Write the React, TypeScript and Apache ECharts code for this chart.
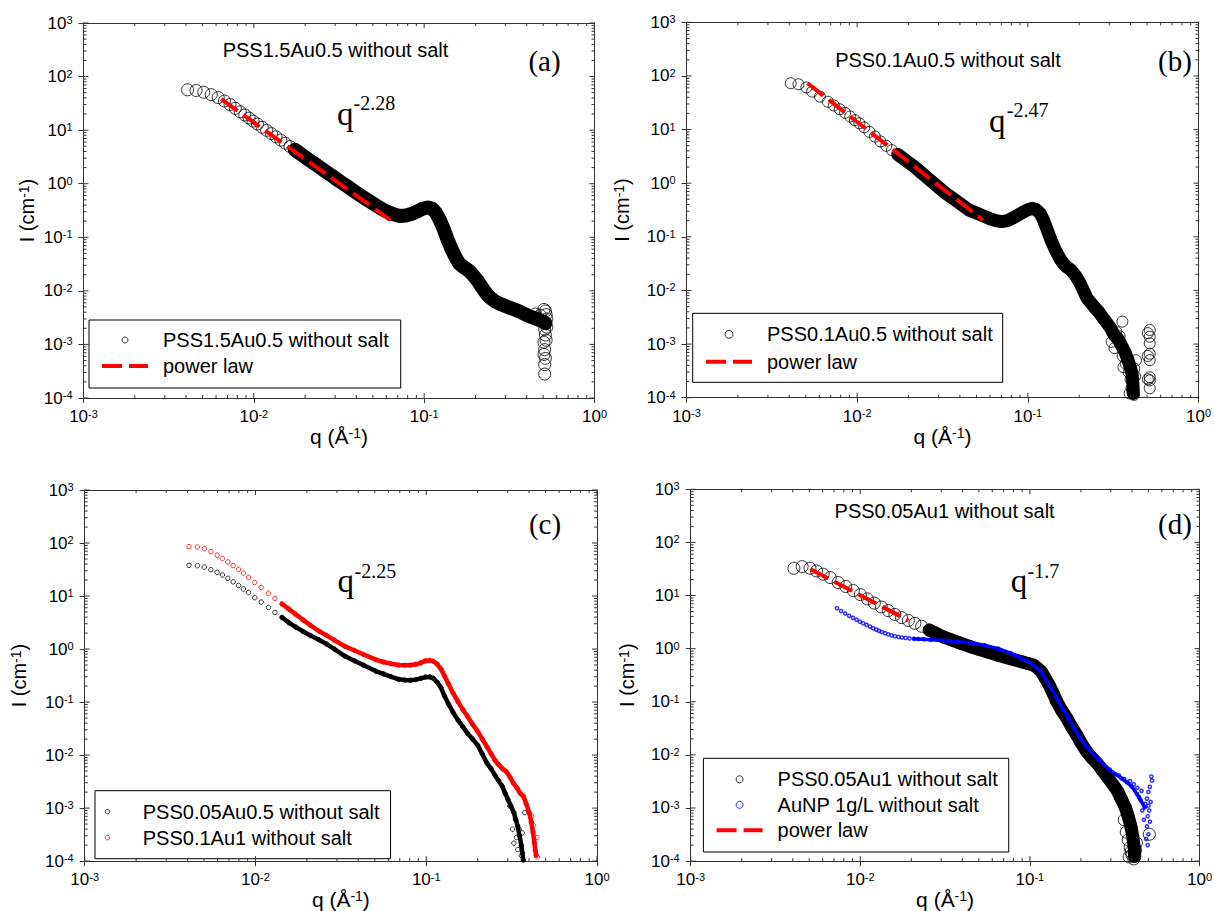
import React, { useEffect, useRef } from "react";
import * as echarts from "echarts";

type Pt = [number, number];

const SANS = '"Liberation Sans", Arial, Helvetica, sans-serif';
const SERIF = '"Liberation Serif", "Times New Roman", Times, serif';
const AXIS_COLOR = "#333";

const X_MIN = 0.001;
const X_MAX = 1;
const Y_MIN = 0.0001;
const Y_MAX = 1000;
const xDecades = [-3, -2, -1, 0];
const yDecades = [-4, -3, -2, -1, 0, 1, 2, 3];
const minorSteps = [2, 3, 4, 5, 6, 7, 8, 9];

// ---------------- panel (a) PSS1.5Au0.5 ----------------
const aLow: Pt[] = [
  [0.00408, 56.6], [0.00458, 55], [0.00508, 51], [0.00562, 46], [0.00618, 40.5], [0.00672, 35],
  [0.00725, 30], [0.00778, 25.5], [0.00832, 22], [0.00885, 19.2], [0.00938, 16.8], [0.0099, 14.8],
  [0.0105, 13], [0.0112, 11.3], [0.0119, 9.9], [0.0127, 8.6], [0.0135, 7.5], [0.0144, 6.5],
  [0.0153, 5.7], [0.0163, 4.95],
];
const aBand: Pt[] = [
  [0.0174, 4.3], [0.0186, 3.7], [0.0198, 3.2], [0.021, 2.8], [0.0235, 2.2], [0.026, 1.75], [0.029, 1.38],
  [0.032, 1.1], [0.036, 0.86], [0.04, 0.68], [0.045, 0.53], [0.05, 0.43], [0.055, 0.355], [0.06, 0.305],
  [0.066, 0.27], [0.072, 0.25], [0.078, 0.255], [0.085, 0.275], [0.092, 0.31], [0.099, 0.345],
  [0.105, 0.36], [0.111, 0.345], [0.117, 0.29], [0.123, 0.215], [0.13, 0.145], [0.137, 0.092],
  [0.145, 0.06], [0.153, 0.042], [0.161, 0.032], [0.17, 0.028], [0.179, 0.025], [0.188, 0.022],
  [0.198, 0.018], [0.208, 0.0148], [0.219, 0.0115], [0.231, 0.009], [0.245, 0.0074], [0.26, 0.0064],
  [0.28, 0.0057], [0.3, 0.0052], [0.32, 0.0048], [0.345, 0.0044], [0.37, 0.004], [0.395, 0.0036],
  [0.42, 0.0033], [0.445, 0.0031], [0.47, 0.0029], [0.495, 0.0027], [0.515, 0.0025],
];
const aNoise: Pt[] = [
  [0.505, 0.0045], [0.515, 0.0042], [0.52, 0.0036], [0.525, 0.003], [0.525, 0.0021], [0.51, 0.0019],
  [0.515, 0.0015], [0.52, 0.0012], [0.505, 0.0011], [0.51, 0.0008], [0.505, 0.00065], [0.515, 0.00055],
  [0.51, 0.00042], [0.51, 0.00028], [0.48, 0.0035], [0.45, 0.0037],
];
const aPower: Pt[] = [[0.00644, 37.8], [0.0634, 0.21]];

// ---------------- panel (b) PSS0.1Au0.5 ----------------
const bLow: Pt[] = [
  [0.00408, 73], [0.00453, 70], [0.00504, 61], [0.00545, 51], [0.00605, 41], [0.00673, 33],
  [0.0073, 28.1], [0.0079, 23.9], [0.0085, 20.5], [0.0091, 17.5], [0.0097, 15], [0.0103, 13.1],
  [0.011, 11], [0.0118, 9.06], [0.0127, 7.4], [0.0137, 6.0], [0.0148, 4.97], [0.016, 4.13],
];
const bBand: Pt[] = [
  [0.0173, 3.43], [0.0187, 2.85], [0.02, 2.44], [0.0216, 2.04], [0.0235, 1.62], [0.026, 1.23],
  [0.029, 0.916], [0.033, 0.65], [0.037, 0.5], [0.041, 0.396], [0.045, 0.318], [0.05, 0.277],
  [0.055, 0.244], [0.06, 0.217], [0.065, 0.2], [0.07, 0.192], [0.076, 0.2], [0.082, 0.225],
  [0.088, 0.256], [0.094, 0.289], [0.1, 0.32], [0.106, 0.34], [0.112, 0.32], [0.118, 0.275],
  [0.124, 0.2], [0.13, 0.134], [0.137, 0.085], [0.145, 0.057], [0.153, 0.041], [0.161, 0.032],
  [0.17, 0.027], [0.179, 0.024], [0.19, 0.019], [0.2, 0.0146], [0.211, 0.0103], [0.222, 0.0072],
  [0.235, 0.0058], [0.248, 0.0047], [0.26, 0.004], [0.275, 0.0031], [0.29, 0.0025], [0.305, 0.002],
  [0.32, 0.0015], [0.34, 0.0012], [0.355, 0.00092], [0.37, 0.00072], [0.385, 0.00052], [0.4, 0.00035],
  [0.408, 0.00028], [0.413, 0.00018], [0.415, 0.00012],
];
const bNoise: Pt[] = [
  [0.358, 0.00262], [0.322, 0.00084], [0.363, 0.00037], [0.419, 0.000113], [0.31, 0.0011], [0.33, 0.0017],
  [0.345, 0.0014], [0.36, 0.0006], [0.375, 0.00043], [0.39, 0.0003], [0.4, 0.00022], [0.405, 0.00015],
  [0.395, 0.00012], [0.42, 0.00035], [0.43, 0.0005], [0.425, 0.00025], [0.518, 0.00183], [0.518, 0.00137],
  [0.518, 0.00103], [0.518, 0.00066], [0.518, 0.0005], [0.518, 0.00024], [0.518, 0.00021], [0.518, 0.00015],
  [0.505, 0.0016], [0.505, 0.0006], [0.505, 0.00022],
];
const bPower: Pt[] = [[0.00512, 73], [0.0546, 0.206]];

// ---------------- panel (c) ----------------
const cBlackLow: Pt[] = [
  [0.00408, 37.9], [0.00457, 37.3], [0.00502, 35.2], [0.00548, 31.4], [0.00596, 28], [0.0064, 25],
  [0.00689, 21.6], [0.0074, 18.5], [0.00796, 15.8], [0.0085, 13.6], [0.0091, 11.7], [0.0099, 9.3],
  [0.0108, 7.7], [0.0119, 6.1], [0.013, 4.9],
];
const cBlackBand: Pt[] = [
  [0.0143, 3.95], [0.0157, 3.15], [0.0172, 2.6], [0.019, 2.15],
  [0.021, 1.8], [0.0235, 1.5], [0.026, 1.25], [0.029, 1.0], [0.0335, 0.73], [0.038, 0.6], [0.043, 0.494],
  [0.0506, 0.384], [0.056, 0.341], [0.062, 0.303], [0.069, 0.268], [0.075, 0.26], [0.0806, 0.257],
  [0.087, 0.265], [0.093, 0.28], [0.099, 0.296], [0.105, 0.298], [0.11, 0.28], [0.116, 0.235],
  [0.122, 0.187], [0.128, 0.13], [0.135, 0.092], [0.144, 0.063], [0.154, 0.045], [0.164, 0.034],
  [0.175, 0.0254], [0.187, 0.02], [0.2, 0.0154], [0.213, 0.0105], [0.227, 0.007], [0.24, 0.0055],
  [0.252, 0.00424], [0.265, 0.0033], [0.279, 0.00257], [0.29, 0.0019], [0.301, 0.00145], [0.313, 0.0011],
  [0.326, 0.00082], [0.335, 0.0006], [0.343, 0.00046], [0.352, 0.0003], [0.361, 0.000196],
  [0.366, 0.00014], [0.37, 0.000105],
];
const cBlackNoise: Pt[] = [
  [0.309, 0.00109], [0.333, 0.00062], [0.35, 0.0004], [0.326, 0.000218], [0.344, 0.000165],
  [0.365, 0.00034], [0.361, 0.000127], [0.32, 0.0004], [0.378, 0.00082], [0.338, 0.00028],
];
const cRedLow: Pt[] = [
  [0.00408, 85.5], [0.00457, 84], [0.00502, 78], [0.00548, 69], [0.00596, 59], [0.0064, 51],
  [0.00689, 44], [0.0074, 37.5], [0.00796, 32], [0.0085, 27], [0.0091, 22.5], [0.0099, 18],
  [0.0108, 14.5], [0.0119, 11.3], [0.013, 9.0],
];
const cRedBand: Pt[] = [
  [0.0143, 7.1], [0.0157, 5.66], [0.0172, 4.53], [0.019, 3.55],
  [0.021, 2.8], [0.0235, 2.19], [0.026, 1.81], [0.029, 1.47], [0.0335, 1.12], [0.038, 0.94], [0.043, 0.79],
  [0.0506, 0.63], [0.056, 0.57], [0.062, 0.53], [0.069, 0.5], [0.075, 0.495], [0.0806, 0.497],
  [0.087, 0.515], [0.093, 0.55], [0.099, 0.6], [0.105, 0.61], [0.11, 0.59], [0.116, 0.52], [0.122, 0.42],
  [0.128, 0.31], [0.135, 0.22], [0.144, 0.145], [0.154, 0.1], [0.164, 0.072], [0.175, 0.053],
  [0.187, 0.038], [0.2, 0.028], [0.213, 0.02], [0.227, 0.0143], [0.24, 0.0105], [0.252, 0.0081],
  [0.265, 0.0066], [0.28, 0.0055], [0.294, 0.0049], [0.31, 0.0038], [0.325, 0.0029], [0.34, 0.0024],
  [0.355, 0.0019], [0.371, 0.00167], [0.385, 0.0012], [0.401, 0.00082], [0.412, 0.00055],
  [0.422, 0.00035], [0.43, 0.00022], [0.44, 0.000128],
];
const cRedNoise: Pt[] = [
  [0.445, 0.00028], [0.435, 0.00016], [0.425, 0.00047], [0.415, 0.0007], [0.447, 0.00012],
];

// ---------------- panel (d) ----------------
const dBlackLow: Pt[] = [
  [0.00406, 32.6], [0.00454, 35], [0.00505, 32.6], [0.00552, 29], [0.00604, 25.2], [0.00665, 21.8],
  [0.0074, 17.6], [0.0082, 14.8], [0.0091, 12.4], [0.01, 10.4], [0.011, 8.65], [0.0121, 7.2],
  [0.0133, 6.1], [0.0146, 5.2], [0.016, 4.4], [0.0175, 3.84], [0.0192, 3.39], [0.021, 3.0], [0.023, 2.64],
];
const dBlackBand: Pt[] = [
  [0.0255, 2.24],
  [0.028, 1.94], [0.031, 1.65], [0.0345, 1.46], [0.0385, 1.28], [0.0449, 1.08], [0.05, 0.97],
  [0.056, 0.87], [0.065, 0.75], [0.073, 0.678], [0.081, 0.618], [0.0895, 0.565], [0.097, 0.526],
  [0.105, 0.49], [0.111, 0.43], [0.117, 0.367], [0.123, 0.28], [0.13, 0.207], [0.137, 0.145],
  [0.144, 0.101], [0.154, 0.069], [0.165, 0.0494], [0.176, 0.034], [0.188, 0.0242], [0.2, 0.017],
  [0.215, 0.0118], [0.232, 0.0088], [0.252, 0.00665], [0.27, 0.0049], [0.288, 0.00375], [0.308, 0.0028],
  [0.328, 0.00211], [0.345, 0.0015], [0.365, 0.00103], [0.38, 0.0007], [0.395, 0.000437],
  [0.405, 0.00028], [0.412, 0.000185], [0.415, 0.000123],
];
const dBlackNoise: Pt[] = [
  [0.36, 0.0006], [0.37, 0.00035], [0.38, 0.00025], [0.39, 0.00018], [0.4, 0.00013], [0.41, 0.00011],
  [0.395, 0.00015], [0.385, 0.00012], [0.42, 0.00016], [0.425, 0.00022], [0.506, 0.00032],
];
const dBlueLow: Pt[] = [
  [0.00728, 5.75], [0.0077, 5.1], [0.00815, 4.6], [0.0086, 4.15], [0.00905, 3.8], [0.0095, 3.5],
  [0.00995, 3.22], [0.0104, 3.0], [0.0109, 2.8], [0.0114, 2.6], [0.0119, 2.42], [0.0124, 2.28],
  [0.0129, 2.16], [0.0134, 2.05], [0.014, 1.95], [0.0146, 1.86], [0.0153, 1.78], [0.016, 1.71],
  [0.0168, 1.66], [0.0176, 1.62], [0.0185, 1.59], [0.0195, 1.56],
];
const dBlueBand: Pt[] = [
  [0.0207, 1.54], [0.022, 1.52], [0.0237, 1.5], [0.026, 1.47], [0.031, 1.43], [0.037, 1.36],
  [0.0449, 1.28], [0.054, 1.16], [0.065, 1.0], [0.077, 0.82], [0.0895, 0.652], [0.097, 0.57],
  [0.105, 0.49], [0.114, 0.39], [0.123, 0.276], [0.133, 0.18], [0.144, 0.117], [0.156, 0.075],
  [0.169, 0.0494], [0.183, 0.031], [0.198, 0.0209], [0.214, 0.0147], [0.232, 0.011], [0.252, 0.0085],
  [0.272, 0.00665], [0.295, 0.0053], [0.32, 0.00433], [0.347, 0.0036], [0.375, 0.00302], [0.4, 0.0025],
  [0.428, 0.00183], [0.45, 0.0014], [0.475, 0.00103],
];
const dBlueNoise: Pt[] = [
  [0.52, 0.0039], [0.525, 0.0033], [0.51, 0.0025], [0.5, 0.002], [0.49, 0.0015], [0.515, 0.0013],
  [0.5, 0.0011], [0.505, 0.0009], [0.495, 0.0007], [0.51, 0.00055], [0.49, 0.00045], [0.5, 0.00032],
  [0.485, 0.00026], [0.495, 0.0002], [0.47, 0.0006], [0.46, 0.0009], [0.48, 0.0012], [0.44, 0.0016],
  [0.455, 0.0021], [0.43, 0.0024], [0.41, 0.0028], [0.39, 0.0032], [0.36, 0.0035], [0.335, 0.0041],
];
const dPower: Pt[] = [[0.00509, 31.2], [0.0192, 3.39]];

// ---------------- texts ----------------
const seriesNames = {
  a: "PSS1.5Au0.5 without salt",
  b: "PSS0.1Au0.5 without salt",
  c1: "PSS0.05Au0.5 without salt",
  c2: "PSS0.1Au1 without salt",
  d1: "PSS0.05Au1 without salt",
  d2: "AuNP 1g/L without salt",
  p: "power law",
};
const panelTitles = ["PSS1.5Au0.5 without salt", "PSS0.1Au0.5 without salt", "", "PSS0.05Au1 without salt"];
const panelLetters = ["(a)", "(b)", "(c)", "(d)"];
const exponents = ["-2.28", "-2.47", "-2.25", "-1.7"];

// ---------------- layout (pixels) ----------------
const grids = [
  { left: 83.5, top: 23, width: 511, height: 375 },
  { left: 686.5, top: 22.3, width: 512, height: 375.4 },
  { left: 84.7, top: 490, width: 512.3, height: 375.7 },
  { left: 690.7, top: 489.3, width: 511.6, height: 374.7 },
];
const yNameGaps = [47, 55, 56, 54];
const titlePos = [[335.5, 50], [948, 59.5], [0, 0], [944.6, 511]];
const letterPos = [[544.5, 61], [1175, 61], [545, 524], [1175, 524]];
const qPos = [[337, 114], [989, 121], [337.4, 581], [1010.7, 581]];
const supPos = [[353.5, 103.3], [1006.8, 110.3], [354.6, 571], [1027.6, 571]];

const MAJOR_IN = 5;
const MINOR_IN = 3;

function powLabel(v: number) {
  const e = Math.round(Math.log10(v));
  return "10{s|" + e + "}";
}

function tickItems() {
  const out: number[][] = [];
  xDecades.forEach((d) => {
    const base = Math.pow(10, d);
    out.push([base, Y_MIN, 0, MAJOR_IN], [base, Y_MAX, 1, MAJOR_IN]);
    if (d < 0) minorSteps.forEach((m) => out.push([m * base, Y_MIN, 0, MINOR_IN], [m * base, Y_MAX, 1, MINOR_IN]));
  });
  yDecades.forEach((d) => {
    const base = Math.pow(10, d);
    out.push([X_MIN, base, 2, MAJOR_IN], [X_MAX, base, 3, MAJOR_IN]);
    if (d < 3) minorSteps.forEach((m) => out.push([X_MIN, m * base, 2, MINOR_IN], [X_MAX, m * base, 3, MINOR_IN]));
  });
  return out;
}

function buildOption() {
  const xAxis: any[] = [];
  const yAxis: any[] = [];
  const labelRich = { s: { fontSize: 11, fontFamily: SANS, color: "#000", verticalAlign: "top" } };
  const nameRich = { s: { fontSize: 14, fontFamily: SANS, color: "#000", verticalAlign: "top" } };
  grids.forEach((g, i) => {
    xAxis.push({
      type: "log", logBase: 10, gridIndex: i, min: X_MIN, max: X_MAX, position: "bottom",
      axisLine: { show: true, lineStyle: { color: AXIS_COLOR, width: 1 } },
      axisTick: { show: true, inside: false, length: 5, lineStyle: { color: AXIS_COLOR } },
      splitLine: { show: false },
      axisLabel: { show: true, margin: 10, formatter: powLabel, color: "#000", fontSize: 17, fontFamily: SANS, rich: labelRich, showMinLabel: true, showMaxLabel: true },
      name: "q (Å{s|-1})", nameLocation: "middle", nameGap: 20,
      nameTextStyle: { fontSize: 21, fontFamily: SANS, color: "#000", rich: nameRich },
    });
    xAxis.push({
      type: "log", logBase: 10, gridIndex: i, min: X_MIN, max: X_MAX, position: "top",
      axisLine: { show: true, lineStyle: { color: AXIS_COLOR, width: 1 } },
      axisTick: { show: false }, axisLabel: { show: false }, splitLine: { show: false },
    });
    yAxis.push({
      type: "log", logBase: 10, gridIndex: i, min: Y_MIN, max: Y_MAX, position: "left",
      axisLine: { show: true, lineStyle: { color: AXIS_COLOR, width: 1 } },
      axisTick: { show: true, inside: false, length: 5, lineStyle: { color: AXIS_COLOR } },
      splitLine: { show: false },
      axisLabel: { show: true, margin: 11, formatter: powLabel, color: "#000", fontSize: 17, fontFamily: SANS, rich: labelRich, showMinLabel: true, showMaxLabel: true },
      name: "I (cm{s|-1})", nameLocation: "middle", nameGap: yNameGaps[i],
      nameTextStyle: { fontSize: 20, fontFamily: SANS, color: "#000", rich: nameRich },
    });
    yAxis.push({
      type: "log", logBase: 10, gridIndex: i, min: Y_MIN, max: Y_MAX, position: "right",
      axisLine: { show: true, lineStyle: { color: AXIS_COLOR, width: 1 } },
      axisTick: { show: false }, axisLabel: { show: false }, splitLine: { show: false },
    });
  });

  const scatter = (name: string, data: Pt[], gi: number, color: string, size: number, bw: number, z: number) => ({
    type: "scatter", name, data, xAxisIndex: 2 * gi, yAxisIndex: 2 * gi, symbol: "circle", symbolSize: size,
    itemStyle: { color: "transparent", borderColor: color, borderWidth: bw }, z, silent: true,
  });
  const band = (data: Pt[], gi: number, color: string, width: number, z: number) => ({
    type: "line", data, xAxisIndex: 2 * gi, yAxisIndex: 2 * gi, symbol: "none", silent: true, z,
    itemStyle: { color }, lineStyle: { color, width, cap: "round", join: "round" },
  });
  const power = (data: Pt[], gi: number) => ({
    type: "line", name: seriesNames.p, data, xAxisIndex: 2 * gi, yAxisIndex: 2 * gi, symbol: "none", silent: true, z: 6,
    itemStyle: { color: "#ff0000", borderColor: "#ff0000" },
    lineStyle: { color: "#ff0000", width: 4, type: [20, 7] },
  });
  const ticks = tickItems();
  const tickSeries = (gi: number) => ({
    type: "custom", xAxisIndex: 2 * gi, yAxisIndex: 2 * gi, data: ticks, silent: true, z: 10, clip: false,
    encode: { x: 0, y: 1 },
    renderItem: (params: any, api: any) => {
      const side = api.value(2);
      const len = api.value(3);
      const p = api.coord([api.value(0), api.value(1)]);
      let x2 = p[0];
      let y2 = p[1];
      if (side === 0) y2 -= len;
      else if (side === 1) y2 += len;
      else if (side === 2) x2 += len;
      else x2 -= len;
      return { type: "line", shape: { x1: p[0], y1: p[1], x2, y2 }, style: { stroke: AXIS_COLOR, lineWidth: 1 } };
    },
  });

  const series: any[] = [
    // a
    band(aBand, 0, "#000", 14, 2),
    scatter(seriesNames.a, [...aLow, ...aBand, ...aNoise], 0, "#000", 12, 1, 3),
    power(aPower, 0),
    tickSeries(0),
    // b
    band(bBand, 1, "#000", 13, 2),
    scatter(seriesNames.b, [...bLow, ...bBand, ...bNoise], 1, "#000", 11, 1, 3),
    power(bPower, 1),
    tickSeries(1),
    // c
    band(cBlackBand, 2, "#000", 4.5, 2),
    scatter(seriesNames.c1, [...cBlackLow, ...cBlackBand, ...cBlackNoise], 2, "#000", 4.5, 1, 3),
    band(cRedBand, 2, "#ff0000", 4.5, 2),
    scatter(seriesNames.c2, [...cRedLow, ...cRedBand, ...cRedNoise], 2, "#ff0000", 4.5, 1, 3),
    tickSeries(2),
    // d
    band(dBlackBand, 3, "#000", 13, 2),
    scatter(seriesNames.d1, [...dBlackLow, ...dBlackBand, ...dBlackNoise], 3, "#000", 12, 1, 3),
    band(dBlueBand, 3, "#0000ff", 3.5, 4),
    scatter(seriesNames.d2, [...dBlueLow, ...dBlueBand, ...dBlueNoise], 3, "#0000ff", 3.2, 1.5, 4),
    power(dPower, 3),
    tickSeries(3),
  ];

  const powerItem = { name: seriesNames.p, itemStyle: { opacity: 0, borderWidth: 0 } };
  const legendBase = (left: number, top: number, data: any[], itemHeight: number, itemGap: number, padding: number[], textPad: number) => ({
    orient: "vertical", left, top, data, itemWidth: 46, itemHeight, itemGap, padding,
    borderColor: "#000", borderWidth: 1, borderRadius: 0, selectedMode: false,
    textStyle: { fontSize: 20, fontFamily: SANS, color: "#000", padding: [0, 0, 0, textPad] },
    itemStyle: { borderWidth: 1 }, lineStyle: { width: 4 },
  });
  const legend = [
    legendBase(89, 320, [seriesNames.a, powerItem], 6, 6, [10, 12, 12, 11], 10),
    legendBase(692.7, 313.3, [seriesNames.b, powerItem], 8, 7.4, [11, 10, 10.6, 11.3], 10),
    legendBase(95, 790.7, [seriesNames.c1, seriesNames.c2], 4.5, 6, [11, 11, 11, 9.7], 7.3),
    legendBase(703.4, 758.3, [seriesNames.d1, seriesNames.d2, powerItem], 7, 5.5, [11, 11, 11.7, 11.2], 10),
  ];

  const txt = (x: number, y: number, text: string, size: number, family: string, align: string) => ({
    type: "text", x, y, silent: true, z: 20,
    style: { text, fontSize: size, fontFamily: family, fill: "#000", align, verticalAlign: "middle", textAlign: align, textVerticalAlign: "middle" },
  });
  const graphic: any[] = [];
  for (let i = 0; i < 4; i++) {
    if (panelTitles[i]) graphic.push(txt(titlePos[i][0], titlePos[i][1], panelTitles[i], 20, SANS, "center"));
    graphic.push(txt(letterPos[i][0], letterPos[i][1], panelLetters[i], 29, SERIF, "center"));
    graphic.push(txt(qPos[i][0], qPos[i][1], "q", 33, SERIF, "left"));
    graphic.push(txt(supPos[i][0], supPos[i][1], exponents[i], 20, SERIF, "left"));
  }

  return {
    animation: false,
    backgroundColor: "#fff",
    grid: grids.map((g) => ({ ...g, containLabel: false })),
    xAxis,
    yAxis,
    legend,
    series,
    graphic,
  };
}

export default function App() {
  const ref = useRef<HTMLDivElement>(null);
  useEffect(() => {
    if (!ref.current) return;
    const chart = echarts.init(ref.current, undefined, { renderer: "svg" });
    chart.setOption(buildOption() as any);
    return () => chart.dispose();
  }, []);
  return <div ref={ref} style={{ position: "fixed", left: 0, top: 0, width: 1215, height: 911, background: "#fff" }} />;
}
